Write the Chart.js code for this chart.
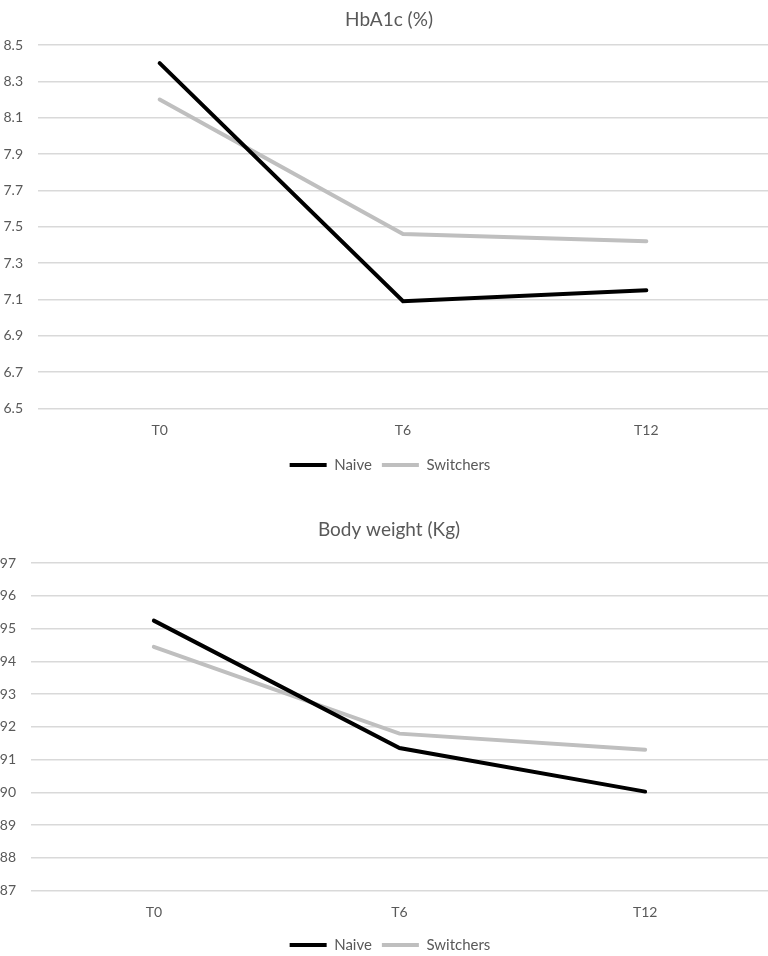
<!DOCTYPE html>
<html>
<head>
<meta charset="utf-8">
<script src="https://cdn.jsdelivr.net/npm/chart.js@4.4.1/dist/chart.umd.min.js"></script>
<style>
  html, body { margin: 0; padding: 0; background: #fff; overflow: hidden; }
  #wrap1 { position: absolute; left: 0; top: 0; width: 768px; height: 490px; }
  #wrap2 { position: absolute; left: 0; top: 490px; width: 768px; height: 475px; }
</style>
</head>
<body>
<div id="wrap1"><canvas id="hba1c"></canvas></div>
<div id="wrap2"><canvas id="weight"></canvas></div>
<script>
const timepoints = ["T0", "T6", "T12"];
const hba1cNaive = [8.40, 7.09, 7.15];
const hba1cSwitchers = [8.20, 7.46, 7.42];
const weightNaive = [95.24, 91.35, 90.02];
const weightSwitchers = [94.44, 91.79, 91.30];

const textColor = "#595959";
const gridColor = "#d9d9d9";
const fontFamily = "Lato, 'Liberation Sans', sans-serif";

// the original figure centres title and legend a bit right of the canvas middle
const nudgeBlocks = {
  id: "nudgeBlocks",
  afterLayout(chart) {
    if (chart.titleBlock) chart.titleBlock.left += 10;
    if (chart.legend) chart.legend.left += 12;
  },
};

function makeChart(id, title, naive, switchers, yOpts, lay) {
  const ctx = document.getElementById(id).getContext("2d");
  return new Chart(ctx, {
    type: "line",
    data: {
      labels: timepoints,
      datasets: [
        {
          label: "Naive",
          data: naive,
          borderColor: "#000000",
          backgroundColor: "#000000",
          borderWidth: 4,
          pointRadius: 0,
          borderCapStyle: "round",
          tension: 0,
        },
        {
          label: "Switchers",
          data: switchers,
          borderColor: "#bfbfbf",
          backgroundColor: "#bfbfbf",
          borderWidth: 4,
          pointRadius: 0,
          borderCapStyle: "round",
          tension: 0,
        },
      ],
    },
    plugins: [nudgeBlocks],
    options: {
      responsive: true,
      maintainAspectRatio: false,
      animation: false,
      layout: { padding: { left: 0, right: 0, top: 0, bottom: lay.bottom } },
      plugins: {
        title: {
          display: true,
          text: title,
          color: textColor,
          font: { family: fontFamily, size: 19, weight: "normal" },
          padding: lay.title,
        },
        legend: {
          position: "bottom",
          labels: {
            color: textColor,
            font: { family: fontFamily, size: 15 },
            usePointStyle: true,
            pointStyle: "line",
            pointStyleWidth: 37,
            padding: 10,
          },
        },
        tooltip: { enabled: false },
      },
      scales: {
        x: {
          offset: true,
          grid: { display: false, drawTicks: false },
          border: { display: false },
          ticks: {
            color: textColor,
            font: { family: fontFamily, size: 14 },
            padding: lay.xPad,
          },
          afterFit: (s) => { s.height = lay.xHeight; },
        },
        y: {
          min: yOpts.min,
          max: yOpts.max,
          grid: { color: gridColor, lineWidth: 1.5, drawTicks: false },
          border: { display: false },
          ticks: {
            stepSize: yOpts.step,
            color: textColor,
            font: { family: fontFamily, size: 14 },
            padding: lay.yPad,
            callback: (v) => yOpts.fmt(v),
          },
          afterFit: (s) => { s.width = lay.yWidth; },
        },
      },
    },
  });
}

makeChart(
  "hba1c",
  "HbA1c (%)",
  hba1cNaive,
  hba1cSwitchers,
  { min: 6.5, max: 8.5, step: 0.2, fmt: (v) => Number(v).toFixed(1) },
  { bottom: 7.5, title: { top: 8.6, bottom: 13.6 }, xPad: 13.6, xHeight: 39, yPad: 15, yWidth: 38 }
);

makeChart(
  "weight",
  "Body weight (Kg)",
  weightNaive,
  weightSwitchers,
  { min: 87, max: 97, step: 1, fmt: (v) => Math.round(v).toString() },
  { bottom: 2.5, title: { top: 28.6, bottom: 21.6 }, xPad: 13.6, xHeight: 37, yPad: 15, yWidth: 31 }
);
</script>
</body>
</html>
